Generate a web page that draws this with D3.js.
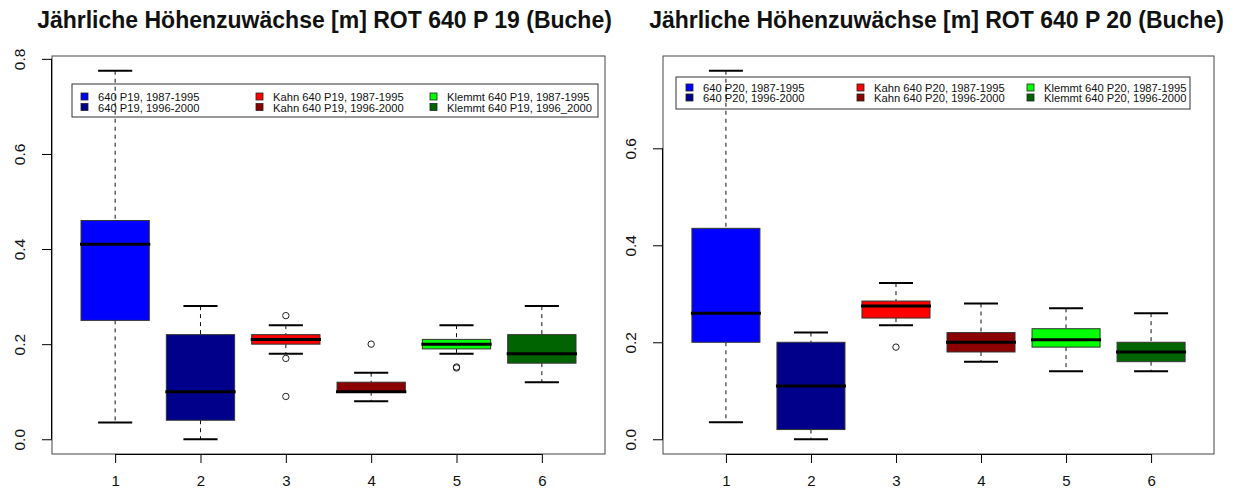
<!DOCTYPE html>
<html>
<head>
<meta charset="utf-8">
<script src="https://cdn.jsdelivr.net/npm/d3@7"></script>
<style>
  html, body { margin: 0; padding: 0; background: #fff; }
  svg { display: block; font-family: "Liberation Sans", Arial, sans-serif; }
</style>
</head>
<body>
<svg id="chart" width="1244" height="490"></svg>
<script>
// Groups 1..6 and their fill colours
const categories = [1, 2, 3, 4, 5, 6];
const boxColors = ["#0000FF", "#00008B", "#FF0000", "#8B0000", "#00FF00", "#006400"];

// ROT 640 P 19 – five-number summaries and outliers per group
const p19Lower   = [0.035, 0.00, 0.18, 0.08, 0.18, 0.12];
const p19Q1      = [0.25,  0.04, 0.20, 0.10, 0.19, 0.16];
const p19Median  = [0.41,  0.10, 0.21, 0.10, 0.20, 0.18];
const p19Q3      = [0.46,  0.22, 0.22, 0.12, 0.21, 0.22];
const p19Upper   = [0.775, 0.28, 0.24, 0.14, 0.24, 0.28];
const p19Outliers = [[], [], [0.26, 0.17, 0.09], [0.20], [0.15, 0.152], []];

// ROT 640 P 20 – five-number summaries and outliers per group
const p20Lower   = [0.035, 0.00, 0.235, 0.16, 0.14, 0.14];
const p20Q1      = [0.20,  0.02, 0.25,  0.18, 0.19, 0.16];
const p20Median  = [0.26,  0.11, 0.275, 0.20, 0.205, 0.18];
const p20Q3      = [0.435, 0.20, 0.285, 0.22, 0.228, 0.20];
const p20Upper   = [0.76,  0.22, 0.322, 0.28, 0.27, 0.26];
const p20Outliers = [[], [], [0.19], [], [], []];

// Titles, legend entries and tick labels
const p19Title = "Jährliche Höhenzuwächse [m] ROT 640 P 19 (Buche)";
const p20Title = "Jährliche Höhenzuwächse [m] ROT 640 P 20 (Buche)";
const p19Legend = ["640 P19, 1987-1995", "640 P19, 1996-2000",
                   "Kahn 640 P19, 1987-1995", "Kahn 640 P19, 1996-2000",
                   "Klemmt 640 P19, 1987-1995", "Klemmt 640 P19, 1996_2000"];
const p20Legend = ["640 P20, 1987-1995", "640 P20, 1996-2000",
                   "Kahn 640 P20, 1987-1995", "Kahn 640 P20, 1996-2000",
                   "Klemmt 640 P20, 1987-1995", "Klemmt 640 P20, 1996-2000"];
const p19YTicks = [0.0, 0.2, 0.4, 0.6, 0.8];
const p20YTicks = [0.0, 0.2, 0.4, 0.6];

const svg = d3.select("#chart");

function drawPanel(cfg) {
  const { left, right, top, bottom } = cfg.frame;
  const g = svg.append("g");

  // R-style axis ranges: groups at 0.5..n+0.5 and data range, each widened by 4 %
  const allVals = cfg.lower.concat(cfg.upper, ...cfg.outliers);
  let yMin = d3.min(allVals), yMax = d3.max(allVals);
  const yPad = (yMax - yMin) * 0.04;
  const xLo = 0.5, xHi = categories.length + 0.5, xPad = (xHi - xLo) * 0.04;

  const x = d3.scaleLinear().domain([xLo - xPad, xHi + xPad]).range([left, right]);
  const y = d3.scaleLinear().domain([yMin - yPad, yMax + yPad]).range([bottom, top]);

  const boxW = x(1.4) - x(0.6);
  const capW = boxW / 2;

  const rows = categories.map((c, i) => ({
    c, color: boxColors[i],
    lo: cfg.lower[i], q1: cfg.q1[i], med: cfg.median[i], q3: cfg.q3[i], hi: cfg.upper[i],
    out: cfg.outliers[i]
  }));

  // Legend box (no fill, so whiskers stay visible through it)
  const lg = cfg.legend;
  g.append("rect")
    .attr("x", lg.x).attr("y", lg.y).attr("width", lg.w).attr("height", lg.h)
    .attr("fill", "none").attr("stroke", "#333").attr("stroke-width", 1);
  cfg.legendLabels.forEach((lab, i) => {
    const col = Math.floor(i / 2), row = i % 2;
    const cx = lg.x + lg.colX[col];
    const cy = lg.y + lg.rowY[row];
    g.append("rect")
      .attr("x", cx - 17).attr("y", cy - 4).attr("width", 7).attr("height", 7)
      .attr("fill", boxColors[i]).attr("stroke", "#222").attr("stroke-width", 0.8);
    g.append("text")
      .attr("x", cx).attr("y", cy + 4)
      .attr("font-size", 11.2).attr("fill", "#111")
      .text(lab);
  });

  const box = g.selectAll("g.box").data(rows).join("g").attr("class", "box");

  // whiskers
  box.append("line")
    .attr("x1", d => x(d.c)).attr("x2", d => x(d.c))
    .attr("y1", d => y(d.hi)).attr("y2", d => y(d.q3))
    .attr("stroke", "#111").attr("stroke-dasharray", "4,4");
  box.append("line")
    .attr("x1", d => x(d.c)).attr("x2", d => x(d.c))
    .attr("y1", d => y(d.q1)).attr("y2", d => y(d.lo))
    .attr("stroke", "#111").attr("stroke-dasharray", "4,4");
  // staples
  box.append("line")
    .attr("x1", d => x(d.c) - capW / 2).attr("x2", d => x(d.c) + capW / 2)
    .attr("y1", d => y(d.hi)).attr("y2", d => y(d.hi))
    .attr("stroke", "#000").attr("stroke-width", 2);
  box.append("line")
    .attr("x1", d => x(d.c) - capW / 2).attr("x2", d => x(d.c) + capW / 2)
    .attr("y1", d => y(d.lo)).attr("y2", d => y(d.lo))
    .attr("stroke", "#000").attr("stroke-width", 2);
  // boxes
  box.append("rect")
    .attr("x", d => x(d.c) - boxW / 2).attr("width", boxW)
    .attr("y", d => y(d.q3)).attr("height", d => Math.max(0, y(d.q1) - y(d.q3)))
    .attr("fill", d => d.color).attr("stroke", "#333").attr("stroke-width", 1);
  // medians
  box.append("line")
    .attr("x1", d => x(d.c) - boxW / 2 - 1).attr("x2", d => x(d.c) + boxW / 2 + 1)
    .attr("y1", d => y(d.med)).attr("y2", d => y(d.med))
    .attr("stroke", "#000").attr("stroke-width", 3);
  // outliers
  box.each(function (d) {
    d3.select(this).selectAll("circle").data(d.out).join("circle")
      .attr("cx", x(d.c)).attr("cy", v => y(v)).attr("r", 3.2)
      .attr("fill", "none").attr("stroke", "#222").attr("stroke-width", 1);
  });

  // plot frame
  g.append("rect")
    .attr("x", left).attr("y", top).attr("width", right - left).attr("height", bottom - top)
    .attr("fill", "none").attr("stroke", "#444").attr("stroke-width", 1);

  // x axis
  const xAxis = d3.axisBottom(x).tickValues(categories).tickSize(9).tickPadding(12)
    .tickFormat(d3.format("d"));
  const gx = g.append("g").attr("transform", `translate(0,${bottom})`).call(xAxis);
  gx.select(".domain").attr("d", `M${x(1)},0.5H${x(categories.length)}`).attr("stroke", "#000");
  gx.selectAll(".tick line").attr("stroke", "#000");
  gx.selectAll("text").attr("font-size", 15).attr("fill", "#111")
    .attr("font-family", "'Liberation Sans', Arial, sans-serif");

  // y axis with labels parallel to the axis
  const yAxis = d3.axisLeft(y).tickValues(cfg.yTicks).tickSize(10).tickFormat(d3.format(".1f"));
  const gy = g.append("g").attr("transform", `translate(${left},0)`).call(yAxis);
  gy.select(".domain")
    .attr("d", `M-0.5,${y(cfg.yTicks[0])}V${y(cfg.yTicks[cfg.yTicks.length - 1])}`)
    .attr("stroke", "#000");
  gy.selectAll(".tick line").attr("stroke", "#000");
  gy.selectAll(".tick text")
    .attr("font-size", 15.5).attr("fill", "#111")
    .attr("font-family", "'Liberation Sans', Arial, sans-serif")
    .attr("x", null).attr("dy", null)
    .attr("text-anchor", "middle")
    .attr("transform", "translate(-32,0) rotate(-90)")
    .attr("y", 0).attr("dy", "0.35em");

  // title
  svg.append("text")
    .attr("x", (left + right) / 2 + cfg.titleShift).attr("y", 28)
    .attr("text-anchor", "middle")
    .attr("font-size", 23).attr("font-weight", "bold").attr("fill", "#111")
    .text(cfg.title);
}

drawPanel({
  frame: { left: 52, right: 605, top: 56, bottom: 454 },
  lower: p19Lower, q1: p19Q1, median: p19Median, q3: p19Q3, upper: p19Upper,
  outliers: p19Outliers, yTicks: p19YTicks, title: p19Title, legendLabels: p19Legend,
  titleShift: -4,
  legend: { x: 72, y: 84, w: 526, h: 33, colX: [26, 201, 375], rowY: [13, 23.5] }
});

drawPanel({
  frame: { left: 663, right: 1214, top: 56, bottom: 454 },
  lower: p20Lower, q1: p20Q1, median: p20Median, q3: p20Q3, upper: p20Upper,
  outliers: p20Outliers, yTicks: p20YTicks, title: p20Title, legendLabels: p20Legend,
  titleShift: -2,
  legend: { x: 676, y: 77, w: 514, h: 32, colX: [27, 198, 368], rowY: [11, 21] }
});
</script>
</body>
</html>
